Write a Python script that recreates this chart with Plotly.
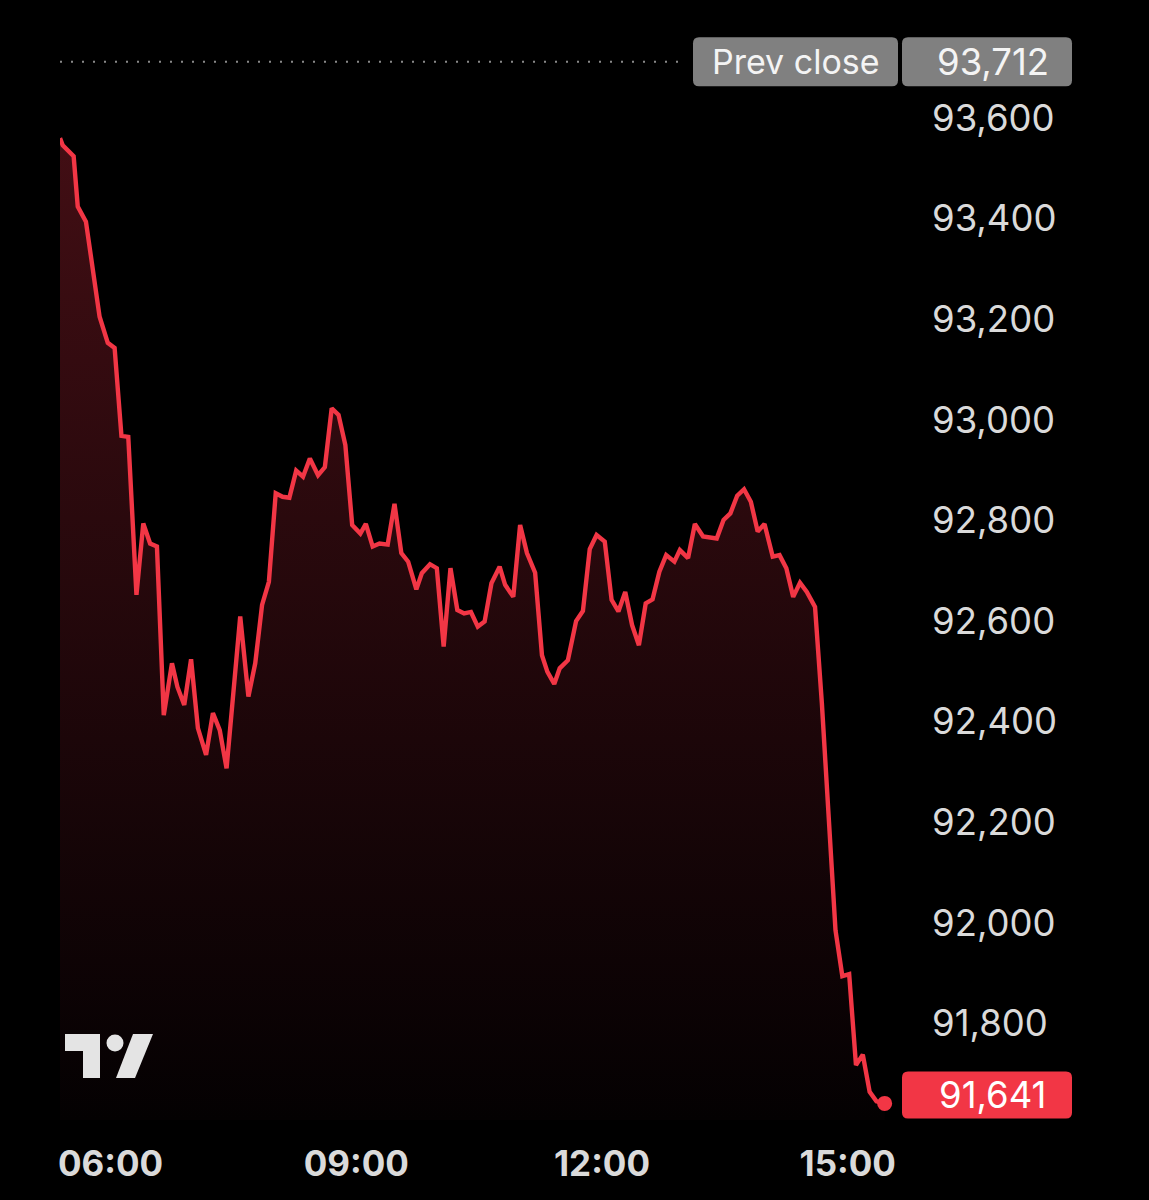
import plotly.graph_objects as go

DAY = "2024-01-01 "
times = ["05:23","05:25","05:33","05:36","05:42","05:52","05:58","06:03","06:08","06:13",
         "06:19","06:24","06:29","06:34","06:39","06:45","06:49","06:54","06:59","07:04",
         "07:10","07:15","07:20","07:25","07:35","07:41","07:46","07:51","07:56","08:01",
         "08:06","08:11","08:16","08:21","08:26","08:32","08:37","08:42","08:47","08:52",
         "08:57","09:03","09:07","09:12","09:17","09:23","09:28","09:33","09:38","09:44",
         "09:48","09:54","09:59","10:04","10:09","10:14","10:19","10:24","10:29","10:34",
         "10:39","10:45","10:49","10:55","11:00","11:05","11:11","11:16","11:20","11:25",
         "11:29","11:35","11:41","11:46","11:51","11:56","12:02","12:07","12:12","12:17",
         "12:22","12:27","12:32","12:37","12:42","12:47","12:53","12:57","13:03","13:08",
         "13:14","13:19","13:24","13:29","13:34","13:39","13:44","13:49","13:54","13:59",
         "14:05","14:10","14:15","14:20","14:25","14:30","14:36","14:41","14:46","14:51",
         "14:56","15:01","15:06","15:11","15:16","15:21","15:27"]
prices = [93560,93546,93524,93424,93394,93205,93153,93143,92968,92966,
          92652,92794,92754,92748,92413,92516,92469,92433,92524,92387,
          92334,92417,92383,92307,92609,92450,92516,92632,92678,92854,
          92847,92845,92899,92887,92923,92890,92906,93023,93010,92950,
          92791,92774,92793,92748,92754,92752,92833,92735,92718,92663,
          92695,92713,92705,92549,92705,92622,92615,92618,92589,92599,
          92675,92708,92672,92648,92791,92735,92696,92532,92499,92475,
          92506,92522,92600,92620,92743,92771,92758,92642,92619,92658,
          92592,92552,92635,92643,92698,92731,92718,92741,92725,92793,
          92768,92766,92764,92801,92814,92849,92862,92837,92778,92793,
          92728,92731,92705,92648,92676,92658,92628,92437,92200,91985,
          91894,91898,91717,91738,91664,91645,91641]
assert len(times) == len(prices)

prev_close = 93712
last_price = prices[-1]
y_ticks = [91800, 92000, 92200, 92400, 92600, 92800, 93000, 93200, 93400, 93600]
x_ticks = ["06:00", "09:00", "12:00", "15:00"]

RED = "#f23645"
GREY_BOX = "#808080"
TXT = "#dadada"
FONT = "Inter"

x = [DAY + t for t in times]

fig = go.Figure()
fig.add_trace(go.Scatter(
    x=x, y=prices, mode="lines",
    line=dict(color=RED, width=4.4),
    fill="tozeroy",
    fillgradient=dict(type="vertical",
                      colorscale=[[0, "rgb(4,1,2)"], [1, "rgb(66,14,20)"]],
                      start=91608, stop=93560),
    hoverinfo="skip", showlegend=False,
))
fig.add_trace(go.Scatter(
    x=[x[-1]], y=[last_price], mode="markers",
    marker=dict(color=RED, size=15), hoverinfo="skip", showlegend=False,
))


def rrect(x0, x1, y0, y1, r=6):
    return (f"M{x0+r},{y1} L{x1-r},{y1} Q{x1},{y1} {x1},{y1-r} "
            f"L{x1},{y0+r} Q{x1},{y0} {x1-r},{y0} L{x0+r},{y0} "
            f"Q{x0},{y0} {x0},{y0+r} L{x0},{y1-r} Q{x0},{y1} {x0+r},{y1} Z")


shapes = [
    dict(type="line", xref="paper", yref="y", x0=0, x1=0.74, y0=prev_close, y1=prev_close,
         line=dict(color="#8a8a8a", width=2, dash="2px,9px")),
    dict(type="path", xref="paper", yref="y", xsizemode="pixel", ysizemode="pixel",
         xanchor=1, yanchor=prev_close, path=rrect(-212, -7, -24.5, 24.5),
         fillcolor=GREY_BOX, line=dict(width=0)),
    dict(type="path", xref="paper", yref="y", xsizemode="pixel", ysizemode="pixel",
         xanchor=1, yanchor=prev_close, path=rrect(-3, 167, -24.5, 24.5),
         fillcolor=GREY_BOX, line=dict(width=0)),
    dict(type="path", xref="paper", yref="y", xsizemode="pixel", ysizemode="pixel",
         xanchor=1, yanchor=last_price, path=rrect(-3, 167, -15, 32),
         fillcolor=RED, line=dict(width=0)),
    dict(type="path", xref="paper", yref="paper", xsizemode="pixel", ysizemode="pixel",
         xanchor=0, yanchor=0, path="M5,86 L40,86 L40,42 L23,42 L23,69 L5,69 Z",
         fillcolor="#e4e4e4", line=dict(width=0)),
    dict(type="circle", xref="paper", yref="paper", xsizemode="pixel", ysizemode="pixel",
         xanchor=0, yanchor=0, x0=46.5, x1=63.5, y0=68.5, y1=85.5,
         fillcolor="#e4e4e4", line=dict(width=0)),
    dict(type="path", xref="paper", yref="paper", xsizemode="pixel", ysizemode="pixel",
         xanchor=0, yanchor=0, path="M73,86 L93,86 L75,42 L56,42 Z",
         fillcolor="#e4e4e4", line=dict(width=0)),
]

annotations = [
    dict(xref="paper", yref="y", x=1, y=prev_close, xshift=-109.5, text="Prev close",
         showarrow=False, font=dict(family=FONT, size=34, color="#f4f4f4"),
         xanchor="center", yanchor="middle"),
    dict(xref="paper", yref="y", x=1, y=prev_close, xshift=87.5, text=f"{prev_close:,}",
         showarrow=False, font=dict(family=FONT, size=36.5, color="#f4f4f4"),
         xanchor="center", yanchor="middle"),
    dict(xref="paper", yref="y", x=1, y=last_price, xshift=87.5, yshift=8.5,
         text=f"{last_price:,}",
         showarrow=False, font=dict(family=FONT, size=36.5, color="#ffffff"),
         xanchor="center", yanchor="middle"),
]

fig.update_layout(
    width=1149, height=1200,
    margin=dict(l=60, r=244, t=30, b=80),
    paper_bgcolor="#000000", plot_bgcolor="#000000",
    shapes=shapes, annotations=annotations,
    xaxis=dict(type="date", range=[DAY + "05:23:00", DAY + "15:41:54"],
               tickvals=[DAY + t for t in x_ticks], ticktext=x_ticks,
               tickfont=dict(family=FONT, size=35, color=TXT, weight="bold"),
               showgrid=False, zeroline=False, showline=False, ticks="",
               ticklabelstandoff=20),
    yaxis=dict(side="right", range=[91608, 93775], tickvals=y_ticks,
               ticktext=[f"{v:,}" for v in y_ticks],
               tickfont=dict(family=FONT, size=36.5, color=TXT),
               showgrid=False, zeroline=False, showline=False, ticks="",
               ticklabelstandoff=26),
    hovermode=False,
)

fig.write_html("out.html", config={"displayModeBar": False},
               post_script="document.body.style.margin='0';document.body.style.background='#000';")
